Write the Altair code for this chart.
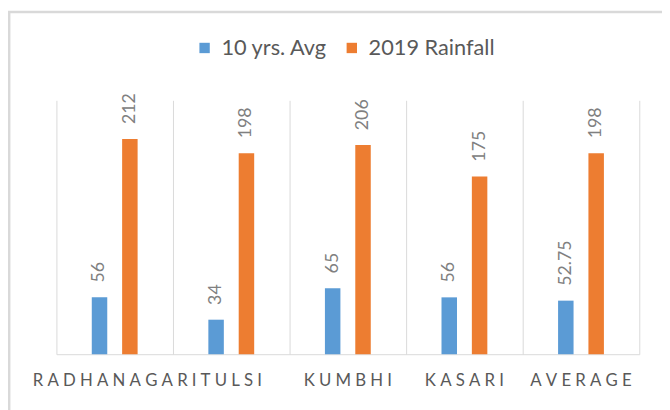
import altair as alt
import pandas as pd

categories = ["RADHANAGARI", "TULSI", "KUMBHI", "KASARI", "AVERAGE"]
series_names = ["10 yrs. Avg", "2019 Rainfall"]
avg_10yrs = [56, 34, 65, 56, 52.75]
rain_2019 = [212, 198, 206, 175, 198]
colors = ["#5B9BD5", "#ED7D31"]

rows = []
for c, a, r in zip(categories, avg_10yrs, rain_2019):
    rows.append({"station": c, "series": series_names[0], "value": a})
    rows.append({"station": c, "series": series_names[1], "value": r})
df = pd.DataFrame(rows)

W, H = 590, 257
FONT = "Lato"

x_enc = alt.X(
    "station:N",
    sort=categories,
    scale=alt.Scale(paddingInner=0, paddingOuter=0),
    axis=alt.Axis(
        title=None,
        ticks=False,
        domain=True,
        domainColor="#D9D9D9",
        domainWidth=1,
        grid=True,
        gridColor="#D9D9D9",
        gridWidth=1,
        bandPosition=0,
        labelAngle=0,
        labelOverlap=False,
        labelLimit=400,
        labelPadding=19,
        labelFont=FONT,
        labelFontSize=17,
        labelColor="#595959",
        labelExpr="join(split(datum.label, ''), '\u2005')",
    ),
)
xoff_enc = alt.XOffset(
    "series:N",
    sort=series_names,
    scale=alt.Scale(range=[35.8, 82.2], paddingInner=0.49, paddingOuter=0),
)
y_enc = alt.Y(
    "value:Q",
    scale=alt.Scale(domain=[0, 250], nice=False),
    axis=alt.Axis(
        orient="right",
        title=None,
        labels=False,
        ticks=False,
        grid=False,
        domain=True,
        domainColor="#D9D9D9",
        domainWidth=1,
    ),
)

base = alt.Chart(df)

bars = base.mark_bar().encode(
    x=x_enc,
    xOffset=xoff_enc,
    y=y_enc,
    color=alt.Color(
        "series:N",
        sort=series_names,
        scale=alt.Scale(domain=series_names, range=colors),
        legend=alt.Legend(
            title=None,
            orient="none",
            legendX=139,
            legendY=-64,
            direction="horizontal",
            symbolType="square",
            symbolSize=110,
            symbolStrokeWidth=0,
            labelFont=FONT,
            labelFontSize=22,
            labelColor="#595959",
            labelOffset=6,
            columnPadding=13,
        ),
    ),
)

labels = base.mark_text(
    angle=270,
    align="left",
    baseline="middle",
    dx=15,
    font=FONT,
    fontSize=18,
    color="#808080",
).encode(
    x=alt.X("station:N", sort=categories),
    xOffset=alt.XOffset("series:N", sort=series_names),
    y=alt.Y("value:Q"),
    text=alt.Text("value:Q"),
)

border = alt.Chart(pd.DataFrame({"k": [0]})).mark_rect(
    fillOpacity=0, stroke="#D9D9D9", strokeWidth=2.5
).encode(
    x=alt.value(-47.8),
    x2=alt.value(W + 60),
    y=alt.value(-89.5),
    y2=alt.value(H + 90),
)

chart = (
    alt.layer(border, bars, labels)
    .properties(
        width=W,
        height=H,
        padding={"left": 49, "top": 91, "right": 23, "bottom": 54},
        autosize=alt.AutoSizeParams(type="none"),
        background="white",
    )
    .configure_view(stroke=None)
)

chart.save("out.html", embed_options={"renderer": "svg", "actions": False})
